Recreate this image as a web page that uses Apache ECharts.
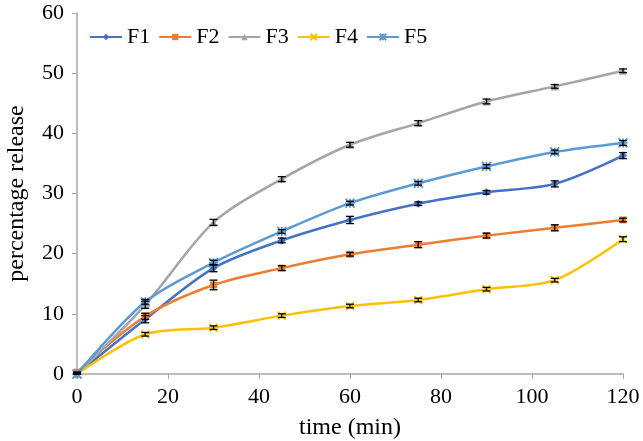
<!DOCTYPE html>
<html>
<head>
<meta charset="utf-8">
<script src="https://cdn.jsdelivr.net/npm/echarts@6/dist/echarts.min.js"></script>
<style>html,body{margin:0;padding:0;background:#fff;}#c{width:643px;height:441px;}</style>
</head>
<body>
<div id="c"></div>
<script>
var times = [0, 15, 30, 45, 60, 75, 90, 105, 120];
var seriesNames = ['F1', 'F2', 'F3', 'F4', 'F5'];
var F1 = [0, 9.1, 17.6, 22.2, 25.6, 28.3, 30.2, 31.6, 36.3];
var F2 = [0.3, 9.6, 14.8, 17.6, 19.9, 21.5, 23.0, 24.3, 25.6];
var F3 = [0, 11.5, 25.2, 32.4, 38.1, 41.7, 45.3, 47.8, 50.4];
var F4 = [0, 6.6, 7.7, 9.7, 11.3, 12.3, 14.1, 15.6, 22.4];
var F5 = [0, 12.0, 18.5, 23.7, 28.4, 31.7, 34.5, 36.9, 38.4];
var F1err = [0, 0.6, 0.6, 0.4, 0.6, 0.3, 0.3, 0.5, 0.5];
var F2err = [0, 0.5, 0.8, 0.4, 0.3, 0.5, 0.4, 0.5, 0.3];
var F3err = [0, 0.6, 0.5, 0.4, 0.4, 0.4, 0.4, 0.3, 0.3];
var F4err = [0, 0.3, 0.3, 0.3, 0.3, 0.3, 0.3, 0.3, 0.4];
var F5err = [0, 0.4, 0.4, 0.3, 0.3, 0.3, 0.3, 0.3, 0.4];
var xTicks = [0, 20, 40, 60, 80, 100, 120];
var yTicks = [0, 10, 20, 30, 40, 50, 60];

var colors = ['#4472C4', '#ED7D31', '#A5A5A5', '#FFC000', '#5B9BD5'];
var symbols = ['diamond', 'rect', 'triangle',
  'path://M0,0L10,10M10,0L0,10',
  'path://M0,0L10,10M10,0L0,10M5,0L5,10M0,5L10,5'];
var sizes = [8, 7, 8, 8, 9];
var values = [F1, F2, F3, F4, F5];
var errs = [F1err, F2err, F3err, F4err, F5err];

var chart = echarts.init(document.getElementById('c'), null, {renderer: 'canvas'});
var series = [];
values.forEach(function (vals, i) {
  series.push({
    name: seriesNames[i], type: 'line', smooth: 0.3,
    data: times.map(function (t, k) { return [t, vals[k]]; }),
    symbol: symbols[i], symbolSize: sizes[i], showSymbol: true,
    lineStyle: {color: colors[i], width: 2.5},
    itemStyle: {color: colors[i], borderColor: colors[i], borderWidth: (i >= 3 ? 1.8 : 0)},
    z: 2 + i
  });
});
values.forEach(function (vals, i) {
  series.push({
    type: 'custom', silent: true, z: 10,
    data: times.map(function (t, k) { return [t, vals[k] - errs[i][k], vals[k] + errs[i][k]]; }),
    renderItem: function (params, api) {
      var x = api.value(0);
      var lo = api.coord([x, api.value(1)]);
      var hi = api.coord([x, api.value(2)]);
      var w = 4;
      var st = {stroke: '#000', lineWidth: 1.3};
      return {type: 'group', children: [
        {type: 'line', shape: {x1: lo[0], y1: lo[1], x2: hi[0], y2: hi[1]}, style: st},
        {type: 'line', shape: {x1: lo[0] - w, y1: lo[1], x2: lo[0] + w, y2: lo[1]}, style: st},
        {type: 'line', shape: {x1: hi[0] - w, y1: hi[1], x2: hi[0] + w, y2: hi[1]}, style: st}
      ]};
    },
    encode: {x: 0, y: [1, 2]}
  });
});

chart.setOption({
  animation: false,
  backgroundColor: '#fff',
  textStyle: {fontFamily: 'Liberation Serif'},
  grid: {left: 77, right: 20, top: 13, bottom: 67, containLabel: false, outerBoundsMode: 'none'},
  legend: {
    data: seriesNames, left: 84, top: 21, itemWidth: 32, itemHeight: 8, itemGap: 8,
    textStyle: {fontFamily: 'Liberation Serif', fontSize: 22, color: '#000'}
  },
  xAxis: {
    type: 'value', min: xTicks[0], max: xTicks[xTicks.length - 1], interval: 20,
    name: 'time (min)', nameLocation: 'middle', nameGap: 42,
    nameTextStyle: {fontFamily: 'Liberation Serif', fontSize: 24, color: '#000'},
    axisLine: {lineStyle: {color: '#A6A6A6', width: 1.5}},
    axisTick: {show: true, length: 5, lineStyle: {color: '#A6A6A6'}},
    axisLabel: {fontFamily: 'Liberation Serif', fontSize: 22, color: '#000', margin: 12},
    splitLine: {show: false}
  },
  yAxis: {
    type: 'value', min: yTicks[0], max: yTicks[yTicks.length - 1], interval: 10,
    name: 'percentage release', nameLocation: 'middle', nameGap: 48, nameRotate: 90,
    nameTextStyle: {fontFamily: 'Liberation Serif', fontSize: 24, color: '#000'},
    axisLine: {show: true, lineStyle: {color: '#A6A6A6', width: 1.5}},
    axisTick: {show: true, length: 5, lineStyle: {color: '#A6A6A6'}},
    axisLabel: {fontFamily: 'Liberation Serif', fontSize: 22, color: '#000', margin: 13},
    splitLine: {show: false}
  },
  series: series
});
</script>
</body>
</html>
